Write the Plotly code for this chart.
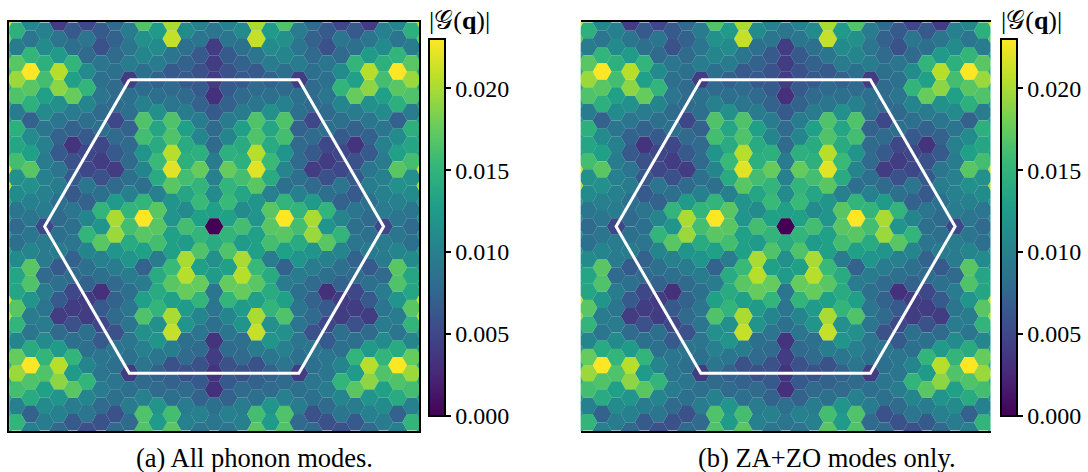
import math
import plotly.graph_objects as go

# Hexagon values in units of 0.001, read top to bottom, one list per column of the grid.
# Column k sits k steps from the centre column; odd columns hold 26 cells, even ones 25.
COL_00 = [9,4.2,4.2,4.2,3.2,6.5,8,8,9.5,10,11,13,0,14,11.5,12.5,9,9,8.5,3.5,4.2,3.5,3.2,8.5,9]
COL_01 = [10,9,6.5,5.8,6.5,7.2,9.5,10.5,14.5,17.5,15,15.5,13,15,16.5,13,17.5,15,10.5,9,8,5.8,6.5,7.2,10,9]
COL_02 = [11,8.5,7.2,6.5,8,9.5,13,14,14.5,16,13.5,11,16,12.5,20,20.5,17.5,12.5,12,8.5,8,5.8,8,9.5,10]
COL_03 = [20,21,9,6.5,8,9,16.5,16.5,20.5,22,17,12,12,13,13,15.5,17,13,20,21,9.5,5.8,7.2,8.5,16,17]
COL_04 = [12.5,11,9.5,7.2,8.5,11.5,13.5,14,15.5,14,10,17,17,16,9.5,14,14,15,11.5,12,9,7.2,8,12,12.5]
COL_05 = [16.5,11.5,10.5,8.5,8,10,16.5,16,12,10.5,8.5,15,23,17,13,7.2,9.5,13,16.5,11.5,10,9,8,10,16.5,16.5]
COL_06 = [9.5,9,9.5,4.2,8.5,8.5,7.2,8,8,8.5,10,15,16,14,12,9.5,8.5,9,9,9,8.5,4.2,8.5,9.5,8]
COL_07 = [8,7.2,8,8.5,8,8,5,8,6.5,4.2,8,12.5,20,19.5,12,9.5,8,7.2,8,5.8,9,8.5,9,8.5,5.8,8]
COL_08 = [6.5,5.8,9,8.5,9,8,8.5,5,4.2,5.8,8.5,15,12,17,10,8.5,3.2,6.5,5,6.5,9,9,9.5,8,5.8]
COL_09 = [5,9,8,11,15,10.5,8.5,6.5,5,5,9,7.2,10.5,15,10.5,8.5,7.2,4.2,4.2,8.5,8.5,10.5,15,10.5,9,5.8]
COL_10 = [6.5,8.5,15,13,17.5,9.5,7.2,3.5,5.8,6.5,6.5,9,8.5,9,7.2,8,5,4.2,5.8,8.5,15,12.5,17,9.5,6.5]
COL_11 = [4.2,9,12.5,20.5,19,11.5,9,7.2,6.5,9,9.5,8.5,8,8.5,9.5,6.5,8.5,6.5,4.2,8,12.5,20.5,19,12,10,8]
COL_12 = [10,11,14.5,16,13,11,9,10,9.5,10,10,9.5,5,9.5,9.5,8,9.5,9,9.5,11,15,16.5,13,11,9.5]
COL_13 = [10.5,9,15,23,17,14.5,7.2,11,13,17,11.5,10,9,9,10.5,17,16.5,12,9.5,9,14,23,16.5,14,7.2,10]
COL_14 = [14.5,9.5,17,19.5,16.5,9.5,14.5,13.5,16,11.5,11,9,8,8.5,11,13.5,13.5,17,15,10.5,17.5,19.5,16,10,15]
COL_15 = [21,17,12,14,14,12,12,13,13,21,20,12,11,11,12,12,13,21,20,12,13,14,14,12,12,14]
COLUMNS = [COL_00, COL_01, COL_02, COL_03, COL_04, COL_05, COL_06, COL_07,
           COL_08, COL_09, COL_10, COL_11, COL_12, COL_13, COL_14, COL_15]

COLOR_MAX = 23
TICK_VALUES = [0, 5, 10, 15, 20]
TICK_LABELS = ["0.000", "0.005", "0.010", "0.015", "0.020"]
BZ_X = [-0.5, 0.5, 1, 0.5, -0.5, -1, -0.5]
BZ_Y = [0.866, 0.866, 0, -0.866, -0.866, 0, 0.866]
CAPTIONS = ["(a) All phonon modes.", "(b) ZA+ZO modes only."]
BAR_TITLE = "|𝒢(<b>q</b>)|"

W, H = 1088, 472
SERIF = "Liberation Serif"
XR, YR = 1.209, 1.2065

xs, ys, vs = [], [], []
for k, col in enumerate(COLUMNS):
    start = -25 if k % 2 else -24
    for n, v in enumerate(col):
        row = start + 2 * n
        for sign in ([1, -1] if k else [1]):
            xs.append(sign * k / 12)
            ys.append(-row * math.sqrt(3) / 36)
            vs.append(v)

fig = go.Figure()
for p, (left, bar_left, cap_x) in enumerate([(9.2, 429, 254), (580.7, 1001, 826.5)]):
    sfx = "" if p == 0 else "2"
    axis = "coloraxis" + sfx
    fig.add_trace(go.Scatter(x=xs, y=ys, mode="markers", xaxis="x" + sfx, yaxis="y" + sfx,
                             showlegend=False, hoverinfo="skip",
                             marker=dict(symbol="hexagon2", size=19.0, color=vs, coloraxis=axis,
                                         line=dict(width=0.3, color="rgba(200,200,200,0.1)"))))
    fig.add_trace(go.Scatter(x=BZ_X, y=BZ_Y, mode="lines", xaxis="x" + sfx, yaxis="y" + sfx,
                             showlegend=False, hoverinfo="skip",
                             line=dict(color="white", width=3)))
    frame = dict(showgrid=False, zeroline=False, showticklabels=False, ticks="",
                 showline=True, mirror=True, linecolor="black", linewidth=2)
    fig.update_layout({
        "xaxis" + sfx: dict(domain=[left / W, (left + 409.8) / W], range=[-XR, XR], **frame),
        "yaxis" + sfx: dict(domain=[1 - 431 / H, 1 - 22 / H], range=[-YR, YR], **frame),
        axis: dict(colorscale="Viridis", cmin=0, cmax=COLOR_MAX, colorbar=dict(
            x=bar_left / W, xanchor="left", xpad=0, ypad=0,
            y=1 - 416 / H, yanchor="bottom", lenmode="fraction", len=377 / H,
            thickness=16, thicknessmode="pixels",
            outlinewidth=2, outlinecolor="black", ticks="outside", ticklen=5, tickwidth=1.5,
            tickcolor="black", tickvals=TICK_VALUES, ticktext=TICK_LABELS,
            tickfont=dict(family=SERIF, size=24, color="black"))),
    })
    fig.add_annotation(text=CAPTIONS[p], x=cap_x / W, y=1 - 458 / H, xref="paper", yref="paper",
                       xanchor="center", yanchor="middle", showarrow=False,
                       font=dict(family=SERIF, size=26.5, color="black"))
    fig.add_annotation(text=BAR_TITLE, x=(bar_left - 2) / W, y=1 - 21 / H, xref="paper", yref="paper",
                       xanchor="left", yanchor="middle", showarrow=False,
                       font=dict(family=SERIF, size=26, color="black"))

fig.update_layout(width=W, height=H, margin=dict(l=0, r=0, t=0, b=0),
                  paper_bgcolor="white", plot_bgcolor="white", showlegend=False)
fig.write_html("out.html", config=dict(displayModeBar=False),
               post_script="document.body.style.margin='0';document.body.style.overflow='hidden';")
